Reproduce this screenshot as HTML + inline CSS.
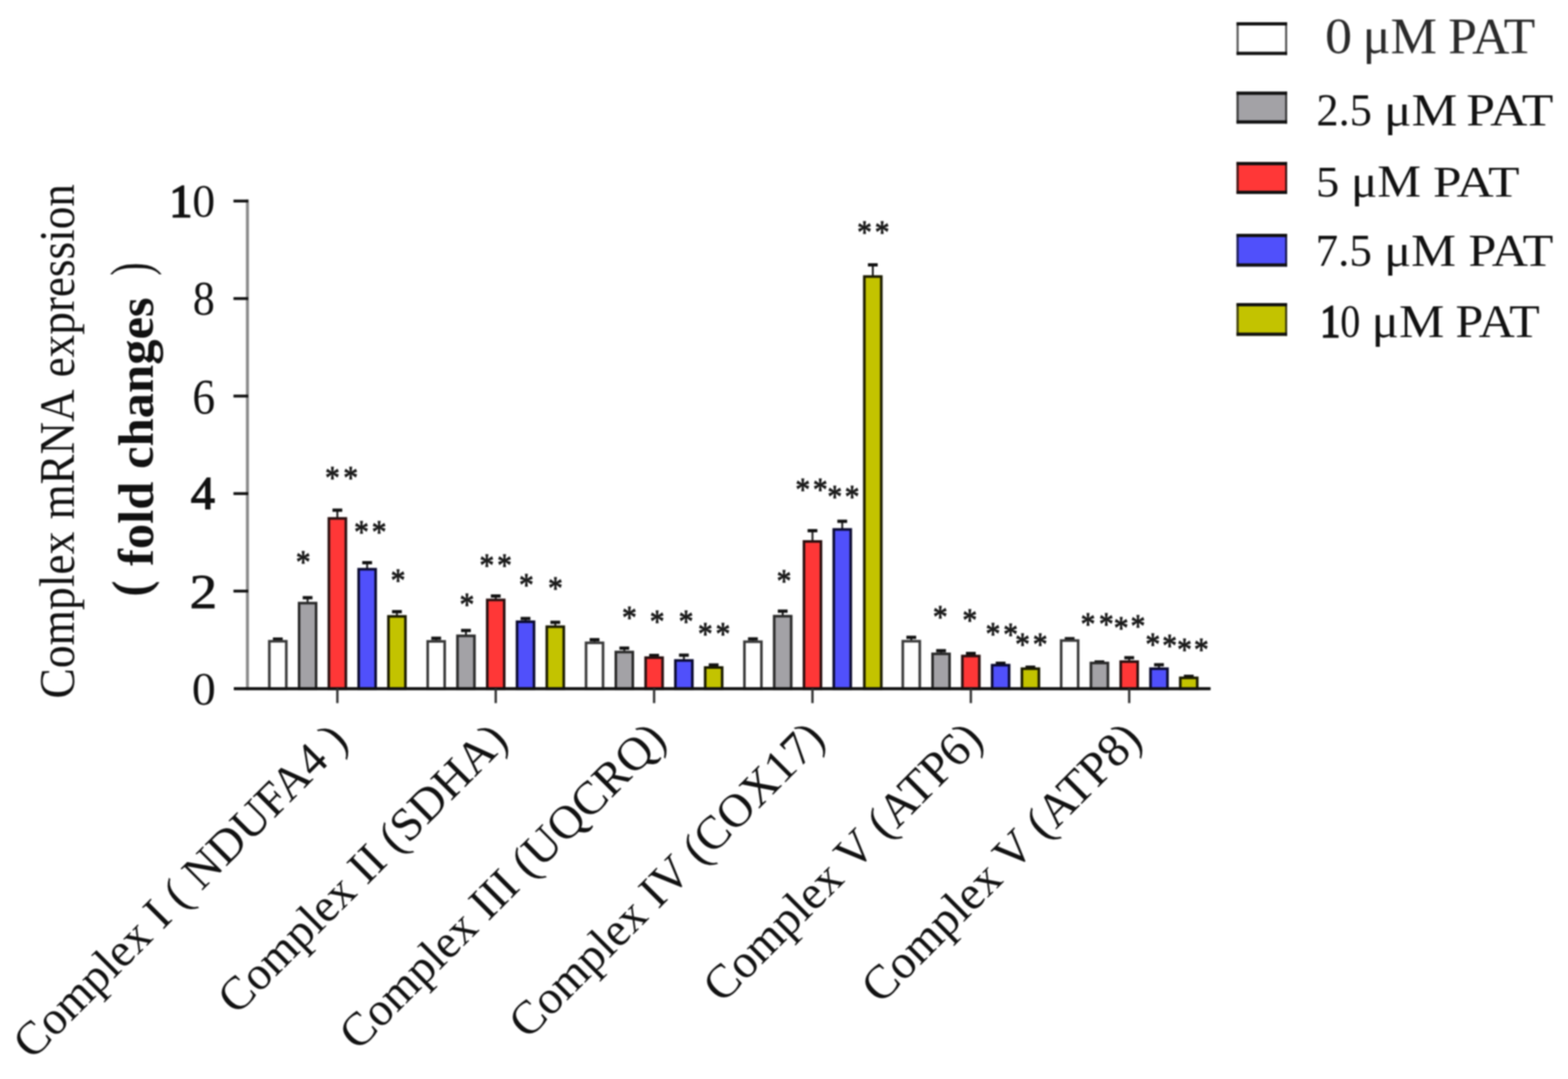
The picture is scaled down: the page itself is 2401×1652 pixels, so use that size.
<!DOCTYPE html>
<html><head><meta charset="utf-8"><style>
html,body{margin:0;padding:0;background:#fff;}
svg{display:block;}
#wrap{filter:blur(0.8px);}
text{font-family:'Liberation Serif','Times New Roman',serif;}
</style></head><body><div id="wrap">
<svg width="2401" height="1652" viewBox="0 0 2401 1652">
<rect width="2401" height="1652" fill="#fff"/>
<line x1="378.9" y1="305.5" x2="378.9" y2="1056.5" stroke="#8a8a8a" stroke-width="4.6"/>
<line x1="357.5" y1="307.80" x2="380" y2="307.80" stroke="#111" stroke-width="4.4"/>
<line x1="357.5" y1="457.10" x2="380" y2="457.10" stroke="#111" stroke-width="4.4"/>
<line x1="357.5" y1="606.40" x2="380" y2="606.40" stroke="#111" stroke-width="4.4"/>
<line x1="357.5" y1="755.70" x2="380" y2="755.70" stroke="#111" stroke-width="4.4"/>
<line x1="357.5" y1="905.00" x2="380" y2="905.00" stroke="#111" stroke-width="4.4"/>
<line x1="358" y1="1054.30" x2="1853.5" y2="1054.30" stroke="#111" stroke-width="4.2"/>
<text transform="translate(259.52,332.40) scale(0.9674,1)" font-size="72.12" font-weight="normal" fill="#111"><tspan stroke="#111" stroke-width="2.6">1</tspan>0</text>
<text transform="translate(295.31,482.40) scale(0.9142,1)" font-size="73.64" font-weight="normal" fill="#111">8</text>
<text transform="translate(294.60,633.00) scale(0.9112,1)" font-size="76.82" font-weight="normal" fill="#111">6</text>
<text transform="translate(292.23,779.11) scale(1.0324,1)" font-size="71.25" font-weight="normal" fill="#111"><tspan stroke="#111" stroke-width="2">4</tspan></text>
<text transform="translate(290.31,930.93) scale(1.1582,1)" font-size="73.28" font-weight="normal" fill="#111"><tspan stroke="#111" stroke-width="1">2</tspan></text>
<text transform="translate(293.86,1078.60) scale(1.0179,1)" font-size="72.12" font-weight="normal" fill="#111">0</text>
<line x1="425.40" y1="978.00" x2="425.40" y2="981.80" stroke="#222" stroke-width="3"/>
<line x1="417.90" y1="978.50" x2="432.90" y2="978.50" stroke="#111" stroke-width="5"/>
<rect x="412.40" y="981.80" width="26.00" height="72.50" fill="#ffffff" stroke="#3a3a3a" stroke-width="4.0"/>
<line x1="471.00" y1="914.60" x2="471.00" y2="923.40" stroke="#222" stroke-width="3"/>
<line x1="463.50" y1="915.10" x2="478.50" y2="915.10" stroke="#111" stroke-width="5"/>
<rect x="458.00" y="923.40" width="26.00" height="130.90" fill="#a3a2a6" stroke="#2a2a2a" stroke-width="4.0"/>
<line x1="516.60" y1="780.60" x2="516.60" y2="793.70" stroke="#222" stroke-width="3"/>
<line x1="509.10" y1="781.10" x2="524.10" y2="781.10" stroke="#111" stroke-width="5"/>
<rect x="503.60" y="793.70" width="26.00" height="260.60" fill="#ff3737" stroke="#2a1010" stroke-width="4.0"/>
<line x1="562.20" y1="861.00" x2="562.20" y2="871.50" stroke="#222" stroke-width="3"/>
<line x1="554.70" y1="861.50" x2="569.70" y2="861.50" stroke="#111" stroke-width="5"/>
<rect x="549.20" y="871.50" width="26.00" height="182.80" fill="#5050fb" stroke="#0a0a30" stroke-width="4.0"/>
<line x1="607.80" y1="936.00" x2="607.80" y2="943.70" stroke="#222" stroke-width="3"/>
<line x1="600.30" y1="936.50" x2="615.30" y2="936.50" stroke="#111" stroke-width="5"/>
<rect x="594.80" y="943.70" width="26.00" height="110.60" fill="#c3c300" stroke="#1a1a00" stroke-width="4.0"/>
<line x1="667.90" y1="976.70" x2="667.90" y2="982.00" stroke="#222" stroke-width="3"/>
<line x1="660.40" y1="977.20" x2="675.40" y2="977.20" stroke="#111" stroke-width="5"/>
<rect x="654.90" y="982.00" width="26.00" height="72.30" fill="#ffffff" stroke="#3a3a3a" stroke-width="4.0"/>
<line x1="713.50" y1="964.80" x2="713.50" y2="973.50" stroke="#222" stroke-width="3"/>
<line x1="706.00" y1="965.30" x2="721.00" y2="965.30" stroke="#111" stroke-width="5"/>
<rect x="700.50" y="973.50" width="26.00" height="80.80" fill="#a3a2a6" stroke="#2a2a2a" stroke-width="4.0"/>
<line x1="759.10" y1="912.00" x2="759.10" y2="918.50" stroke="#222" stroke-width="3"/>
<line x1="751.60" y1="912.50" x2="766.60" y2="912.50" stroke="#111" stroke-width="5"/>
<rect x="746.10" y="918.50" width="26.00" height="135.80" fill="#ff3737" stroke="#2a1010" stroke-width="4.0"/>
<line x1="804.70" y1="946.50" x2="804.70" y2="951.90" stroke="#222" stroke-width="3"/>
<line x1="797.20" y1="947.00" x2="812.20" y2="947.00" stroke="#111" stroke-width="5"/>
<rect x="791.70" y="951.90" width="26.00" height="102.40" fill="#5050fb" stroke="#0a0a30" stroke-width="4.0"/>
<line x1="850.30" y1="952.30" x2="850.30" y2="959.50" stroke="#222" stroke-width="3"/>
<line x1="842.80" y1="952.80" x2="857.80" y2="952.80" stroke="#111" stroke-width="5"/>
<rect x="837.30" y="959.50" width="26.00" height="94.80" fill="#c3c300" stroke="#1a1a00" stroke-width="4.0"/>
<line x1="910.40" y1="978.90" x2="910.40" y2="984.20" stroke="#222" stroke-width="3"/>
<line x1="902.90" y1="979.40" x2="917.90" y2="979.40" stroke="#111" stroke-width="5"/>
<rect x="897.40" y="984.20" width="26.00" height="70.10" fill="#ffffff" stroke="#3a3a3a" stroke-width="4.0"/>
<line x1="956.00" y1="991.80" x2="956.00" y2="998.30" stroke="#222" stroke-width="3"/>
<line x1="948.50" y1="992.30" x2="963.50" y2="992.30" stroke="#111" stroke-width="5"/>
<rect x="943.00" y="998.30" width="26.00" height="56.00" fill="#a3a2a6" stroke="#2a2a2a" stroke-width="4.0"/>
<line x1="1001.60" y1="1003.00" x2="1001.60" y2="1006.90" stroke="#222" stroke-width="3"/>
<line x1="994.10" y1="1003.50" x2="1009.10" y2="1003.50" stroke="#111" stroke-width="5"/>
<rect x="988.60" y="1006.90" width="26.00" height="47.40" fill="#ff3737" stroke="#2a1010" stroke-width="4.0"/>
<line x1="1047.20" y1="1002.60" x2="1047.20" y2="1011.20" stroke="#222" stroke-width="3"/>
<line x1="1039.70" y1="1003.10" x2="1054.70" y2="1003.10" stroke="#111" stroke-width="5"/>
<rect x="1034.20" y="1011.20" width="26.00" height="43.10" fill="#5050fb" stroke="#0a0a30" stroke-width="4.0"/>
<line x1="1092.80" y1="1017.60" x2="1092.80" y2="1022.00" stroke="#222" stroke-width="3"/>
<line x1="1085.30" y1="1018.10" x2="1100.30" y2="1018.10" stroke="#111" stroke-width="5"/>
<rect x="1079.80" y="1022.00" width="26.00" height="32.30" fill="#c3c300" stroke="#1a1a00" stroke-width="4.0"/>
<line x1="1152.90" y1="977.70" x2="1152.90" y2="982.50" stroke="#222" stroke-width="3"/>
<line x1="1145.40" y1="978.20" x2="1160.40" y2="978.20" stroke="#111" stroke-width="5"/>
<rect x="1139.90" y="982.50" width="26.00" height="71.80" fill="#ffffff" stroke="#3a3a3a" stroke-width="4.0"/>
<line x1="1198.50" y1="935.20" x2="1198.50" y2="943.40" stroke="#222" stroke-width="3"/>
<line x1="1191.00" y1="935.70" x2="1206.00" y2="935.70" stroke="#111" stroke-width="5"/>
<rect x="1185.50" y="943.40" width="26.00" height="110.90" fill="#a3a2a6" stroke="#2a2a2a" stroke-width="4.0"/>
<line x1="1244.10" y1="812.00" x2="1244.10" y2="829.00" stroke="#222" stroke-width="3"/>
<line x1="1236.60" y1="812.50" x2="1251.60" y2="812.50" stroke="#111" stroke-width="5"/>
<rect x="1231.10" y="829.00" width="26.00" height="225.30" fill="#ff3737" stroke="#2a1010" stroke-width="4.0"/>
<line x1="1289.70" y1="797.60" x2="1289.70" y2="810.60" stroke="#222" stroke-width="3"/>
<line x1="1282.20" y1="798.10" x2="1297.20" y2="798.10" stroke="#111" stroke-width="5"/>
<rect x="1276.70" y="810.60" width="26.00" height="243.70" fill="#5050fb" stroke="#0a0a30" stroke-width="4.0"/>
<line x1="1336.50" y1="405.00" x2="1336.50" y2="423.40" stroke="#222" stroke-width="3"/>
<line x1="1329.00" y1="405.50" x2="1344.00" y2="405.50" stroke="#111" stroke-width="5"/>
<rect x="1323.50" y="423.40" width="26.00" height="630.90" fill="#c3c300" stroke="#1a1a00" stroke-width="4.0"/>
<line x1="1395.40" y1="975.30" x2="1395.40" y2="981.70" stroke="#222" stroke-width="3"/>
<line x1="1387.90" y1="975.80" x2="1402.90" y2="975.80" stroke="#111" stroke-width="5"/>
<rect x="1382.40" y="981.70" width="26.00" height="72.60" fill="#ffffff" stroke="#3a3a3a" stroke-width="4.0"/>
<line x1="1441.00" y1="995.75" x2="1441.00" y2="1001.10" stroke="#222" stroke-width="3"/>
<line x1="1433.50" y1="996.25" x2="1448.50" y2="996.25" stroke="#111" stroke-width="5"/>
<rect x="1428.00" y="1001.10" width="26.00" height="53.20" fill="#a3a2a6" stroke="#2a2a2a" stroke-width="4.0"/>
<line x1="1486.60" y1="1000.00" x2="1486.60" y2="1004.40" stroke="#222" stroke-width="3"/>
<line x1="1479.10" y1="1000.50" x2="1494.10" y2="1000.50" stroke="#111" stroke-width="5"/>
<rect x="1473.60" y="1004.40" width="26.00" height="49.90" fill="#ff3737" stroke="#2a1010" stroke-width="4.0"/>
<line x1="1532.20" y1="1015.00" x2="1532.20" y2="1018.40" stroke="#222" stroke-width="3"/>
<line x1="1524.70" y1="1015.50" x2="1539.70" y2="1015.50" stroke="#111" stroke-width="5"/>
<rect x="1519.20" y="1018.40" width="26.00" height="35.90" fill="#5050fb" stroke="#0a0a30" stroke-width="4.0"/>
<line x1="1577.80" y1="1021.00" x2="1577.80" y2="1023.80" stroke="#222" stroke-width="3"/>
<line x1="1570.30" y1="1021.50" x2="1585.30" y2="1021.50" stroke="#111" stroke-width="5"/>
<rect x="1564.80" y="1023.80" width="26.00" height="30.50" fill="#c3c300" stroke="#1a1a00" stroke-width="4.0"/>
<line x1="1637.90" y1="977.40" x2="1637.90" y2="980.70" stroke="#222" stroke-width="3"/>
<line x1="1630.40" y1="977.90" x2="1645.40" y2="977.90" stroke="#111" stroke-width="5"/>
<rect x="1624.90" y="980.70" width="26.00" height="73.60" fill="#ffffff" stroke="#3a3a3a" stroke-width="4.0"/>
<line x1="1683.50" y1="1013.00" x2="1683.50" y2="1015.10" stroke="#222" stroke-width="3"/>
<line x1="1676.00" y1="1013.50" x2="1691.00" y2="1013.50" stroke="#111" stroke-width="5"/>
<rect x="1670.50" y="1015.10" width="26.00" height="39.20" fill="#a3a2a6" stroke="#2a2a2a" stroke-width="4.0"/>
<line x1="1729.10" y1="1006.50" x2="1729.10" y2="1013.00" stroke="#222" stroke-width="3"/>
<line x1="1721.60" y1="1007.00" x2="1736.60" y2="1007.00" stroke="#111" stroke-width="5"/>
<rect x="1716.10" y="1013.00" width="26.00" height="41.30" fill="#ff3737" stroke="#2a1010" stroke-width="4.0"/>
<line x1="1774.70" y1="1017.30" x2="1774.70" y2="1023.80" stroke="#222" stroke-width="3"/>
<line x1="1767.20" y1="1017.80" x2="1782.20" y2="1017.80" stroke="#111" stroke-width="5"/>
<rect x="1761.70" y="1023.80" width="26.00" height="30.50" fill="#5050fb" stroke="#0a0a30" stroke-width="4.0"/>
<line x1="1820.30" y1="1035.00" x2="1820.30" y2="1037.80" stroke="#222" stroke-width="3"/>
<line x1="1812.80" y1="1035.50" x2="1827.80" y2="1035.50" stroke="#111" stroke-width="5"/>
<rect x="1807.30" y="1037.80" width="26.00" height="16.50" fill="#c3c300" stroke="#1a1a00" stroke-width="4.0"/>
<line x1="358" y1="1054.30" x2="1853.5" y2="1054.30" stroke="#111" stroke-width="4.2"/>
<line x1="516.60" y1="1054.30" x2="516.60" y2="1076.5" stroke="#333" stroke-width="3.6"/>
<line x1="759.10" y1="1054.30" x2="759.10" y2="1076.5" stroke="#333" stroke-width="3.6"/>
<line x1="1001.60" y1="1054.30" x2="1001.60" y2="1076.5" stroke="#333" stroke-width="3.6"/>
<line x1="1244.10" y1="1054.30" x2="1244.10" y2="1076.5" stroke="#333" stroke-width="3.6"/>
<line x1="1486.60" y1="1054.30" x2="1486.60" y2="1076.5" stroke="#333" stroke-width="3.6"/>
<line x1="1729.10" y1="1054.30" x2="1729.10" y2="1076.5" stroke="#333" stroke-width="3.6"/>
<text transform="translate(464.30,853.00) scale(1,1.12)" x="0" y="21.15" font-size="45" text-anchor="middle" fill="#1a1a1a" stroke="#1a1a1a" stroke-width="1.1">*</text>
<text transform="translate(509.00,724.00) scale(1,1.12)" x="0" y="21.15" font-size="45" text-anchor="middle" fill="#1a1a1a" stroke="#1a1a1a" stroke-width="1.1">*</text>
<text transform="translate(537.00,724.00) scale(1,1.12)" x="0" y="21.15" font-size="45" text-anchor="middle" fill="#1a1a1a" stroke="#1a1a1a" stroke-width="1.1">*</text>
<text transform="translate(553.40,807.20) scale(1,1.12)" x="0" y="21.15" font-size="45" text-anchor="middle" fill="#1a1a1a" stroke="#1a1a1a" stroke-width="1.1">*</text>
<text transform="translate(580.50,807.20) scale(1,1.12)" x="0" y="21.15" font-size="45" text-anchor="middle" fill="#1a1a1a" stroke="#1a1a1a" stroke-width="1.1">*</text>
<text transform="translate(609.50,881.00) scale(1,1.12)" x="0" y="21.15" font-size="45" text-anchor="middle" fill="#1a1a1a" stroke="#1a1a1a" stroke-width="1.1">*</text>
<text transform="translate(714.90,918.70) scale(1,1.12)" x="0" y="21.15" font-size="45" text-anchor="middle" fill="#1a1a1a" stroke="#1a1a1a" stroke-width="1.1">*</text>
<text transform="translate(745.50,857.80) scale(1,1.12)" x="0" y="21.15" font-size="45" text-anchor="middle" fill="#1a1a1a" stroke="#1a1a1a" stroke-width="1.1">*</text>
<text transform="translate(772.50,857.80) scale(1,1.12)" x="0" y="21.15" font-size="45" text-anchor="middle" fill="#1a1a1a" stroke="#1a1a1a" stroke-width="1.1">*</text>
<text transform="translate(806.00,888.50) scale(1,1.12)" x="0" y="21.15" font-size="45" text-anchor="middle" fill="#1a1a1a" stroke="#1a1a1a" stroke-width="1.1">*</text>
<text transform="translate(850.60,892.80) scale(1,1.12)" x="0" y="21.15" font-size="45" text-anchor="middle" fill="#1a1a1a" stroke="#1a1a1a" stroke-width="1.1">*</text>
<text transform="translate(963.80,938.00) scale(1,1.12)" x="0" y="21.15" font-size="45" text-anchor="middle" fill="#1a1a1a" stroke="#1a1a1a" stroke-width="1.1">*</text>
<text transform="translate(1006.30,944.30) scale(1,1.12)" x="0" y="21.15" font-size="45" text-anchor="middle" fill="#1a1a1a" stroke="#1a1a1a" stroke-width="1.1">*</text>
<text transform="translate(1050.50,944.20) scale(1,1.12)" x="0" y="21.15" font-size="45" text-anchor="middle" fill="#1a1a1a" stroke="#1a1a1a" stroke-width="1.1">*</text>
<text transform="translate(1080.00,963.40) scale(1,1.12)" x="0" y="21.15" font-size="45" text-anchor="middle" fill="#1a1a1a" stroke="#1a1a1a" stroke-width="1.1">*</text>
<text transform="translate(1107.00,963.40) scale(1,1.12)" x="0" y="21.15" font-size="45" text-anchor="middle" fill="#1a1a1a" stroke="#1a1a1a" stroke-width="1.1">*</text>
<text transform="translate(1200.40,882.50) scale(1,1.12)" x="0" y="21.15" font-size="45" text-anchor="middle" fill="#1a1a1a" stroke="#1a1a1a" stroke-width="1.1">*</text>
<text transform="translate(1229.30,742.00) scale(1,1.12)" x="0" y="21.15" font-size="45" text-anchor="middle" fill="#1a1a1a" stroke="#1a1a1a" stroke-width="1.1">*</text>
<text transform="translate(1255.90,742.00) scale(1,1.12)" x="0" y="21.15" font-size="45" text-anchor="middle" fill="#1a1a1a" stroke="#1a1a1a" stroke-width="1.1">*</text>
<text transform="translate(1278.20,753.00) scale(1,1.12)" x="0" y="21.15" font-size="45" text-anchor="middle" fill="#1a1a1a" stroke="#1a1a1a" stroke-width="1.1">*</text>
<text transform="translate(1304.70,753.00) scale(1,1.12)" x="0" y="21.15" font-size="45" text-anchor="middle" fill="#1a1a1a" stroke="#1a1a1a" stroke-width="1.1">*</text>
<text transform="translate(1323.80,347.80) scale(1,1.12)" x="0" y="21.15" font-size="45" text-anchor="middle" fill="#1a1a1a" stroke="#1a1a1a" stroke-width="1.1">*</text>
<text transform="translate(1350.80,347.80) scale(1,1.12)" x="0" y="21.15" font-size="45" text-anchor="middle" fill="#1a1a1a" stroke="#1a1a1a" stroke-width="1.1">*</text>
<text transform="translate(1439.70,937.70) scale(1,1.12)" x="0" y="21.15" font-size="45" text-anchor="middle" fill="#1a1a1a" stroke="#1a1a1a" stroke-width="1.1">*</text>
<text transform="translate(1485.00,942.00) scale(1,1.12)" x="0" y="21.15" font-size="45" text-anchor="middle" fill="#1a1a1a" stroke="#1a1a1a" stroke-width="1.1">*</text>
<text transform="translate(1520.60,963.60) scale(1,1.12)" x="0" y="21.15" font-size="45" text-anchor="middle" fill="#1a1a1a" stroke="#1a1a1a" stroke-width="1.1">*</text>
<text transform="translate(1547.50,964.70) scale(1,1.12)" x="0" y="21.15" font-size="45" text-anchor="middle" fill="#1a1a1a" stroke="#1a1a1a" stroke-width="1.1">*</text>
<text transform="translate(1565.80,979.70) scale(1,1.12)" x="0" y="21.15" font-size="45" text-anchor="middle" fill="#1a1a1a" stroke="#1a1a1a" stroke-width="1.1">*</text>
<text transform="translate(1592.80,979.70) scale(1,1.12)" x="0" y="21.15" font-size="45" text-anchor="middle" fill="#1a1a1a" stroke="#1a1a1a" stroke-width="1.1">*</text>
<text transform="translate(1666.00,948.50) scale(1,1.12)" x="0" y="21.15" font-size="45" text-anchor="middle" fill="#1a1a1a" stroke="#1a1a1a" stroke-width="1.1">*</text>
<text transform="translate(1694.00,948.50) scale(1,1.12)" x="0" y="21.15" font-size="45" text-anchor="middle" fill="#1a1a1a" stroke="#1a1a1a" stroke-width="1.1">*</text>
<text transform="translate(1716.70,953.90) scale(1,1.12)" x="0" y="21.15" font-size="45" text-anchor="middle" fill="#1a1a1a" stroke="#1a1a1a" stroke-width="1.1">*</text>
<text transform="translate(1742.50,951.70) scale(1,1.12)" x="0" y="21.15" font-size="45" text-anchor="middle" fill="#1a1a1a" stroke="#1a1a1a" stroke-width="1.1">*</text>
<text transform="translate(1765.20,979.70) scale(1,1.12)" x="0" y="21.15" font-size="45" text-anchor="middle" fill="#1a1a1a" stroke="#1a1a1a" stroke-width="1.1">*</text>
<text transform="translate(1791.00,980.80) scale(1,1.12)" x="0" y="21.15" font-size="45" text-anchor="middle" fill="#1a1a1a" stroke="#1a1a1a" stroke-width="1.1">*</text>
<text transform="translate(1813.70,987.30) scale(1,1.12)" x="0" y="21.15" font-size="45" text-anchor="middle" fill="#1a1a1a" stroke="#1a1a1a" stroke-width="1.1">*</text>
<text transform="translate(1839.50,987.30) scale(1,1.12)" x="0" y="21.15" font-size="45" text-anchor="middle" fill="#1a1a1a" stroke="#1a1a1a" stroke-width="1.1">*</text>
<rect x="1893.50" y="34.10" width="77.50" height="50.20" fill="#ffffff"/>
<line x1="1895.10" y1="34.10" x2="1895.10" y2="84.30" stroke="#555" stroke-width="3.2"/>
<line x1="1969.40" y1="34.10" x2="1969.40" y2="84.30" stroke="#555" stroke-width="3.2"/>
<line x1="1893.50" y1="36.60" x2="1971.00" y2="36.60" stroke="#111" stroke-width="5"/>
<line x1="1893.50" y1="81.80" x2="1971.00" y2="81.80" stroke="#111" stroke-width="5"/>
<rect x="1893.50" y="140.20" width="77.50" height="49.10" fill="#a3a2a6"/>
<line x1="1895.10" y1="140.20" x2="1895.10" y2="189.30" stroke="#3a3a3a" stroke-width="3.2"/>
<line x1="1969.40" y1="140.20" x2="1969.40" y2="189.30" stroke="#3a3a3a" stroke-width="3.2"/>
<line x1="1893.50" y1="142.70" x2="1971.00" y2="142.70" stroke="#111" stroke-width="5"/>
<line x1="1893.50" y1="186.80" x2="1971.00" y2="186.80" stroke="#111" stroke-width="5"/>
<rect x="1893.50" y="247.90" width="77.50" height="49.10" fill="#ff3737"/>
<line x1="1895.10" y1="247.90" x2="1895.10" y2="297.00" stroke="#3a1515" stroke-width="3.2"/>
<line x1="1969.40" y1="247.90" x2="1969.40" y2="297.00" stroke="#3a1515" stroke-width="3.2"/>
<line x1="1893.50" y1="250.40" x2="1971.00" y2="250.40" stroke="#111" stroke-width="5"/>
<line x1="1893.50" y1="294.50" x2="1971.00" y2="294.50" stroke="#111" stroke-width="5"/>
<rect x="1893.50" y="358.00" width="77.50" height="50.20" fill="#5050fb"/>
<line x1="1895.10" y1="358.00" x2="1895.10" y2="408.20" stroke="#1a1a50" stroke-width="3.2"/>
<line x1="1969.40" y1="358.00" x2="1969.40" y2="408.20" stroke="#1a1a50" stroke-width="3.2"/>
<line x1="1893.50" y1="360.50" x2="1971.00" y2="360.50" stroke="#111" stroke-width="5"/>
<line x1="1893.50" y1="405.70" x2="1971.00" y2="405.70" stroke="#111" stroke-width="5"/>
<rect x="1893.50" y="464.10" width="77.50" height="50.10" fill="#c3c300"/>
<line x1="1895.10" y1="464.10" x2="1895.10" y2="514.20" stroke="#3a3a10" stroke-width="3.2"/>
<line x1="1969.40" y1="464.10" x2="1969.40" y2="514.20" stroke="#3a3a10" stroke-width="3.2"/>
<line x1="1893.50" y1="466.60" x2="1971.00" y2="466.60" stroke="#111" stroke-width="5"/>
<line x1="1893.50" y1="511.70" x2="1971.00" y2="511.70" stroke="#111" stroke-width="5"/>
<text transform="translate(2028.99,81.45) scale(1.0464,1)" font-size="79.02" fill="#2a2a2a">0</text>
<text transform="translate(2086.40,81.45) scale(1.0125,1)" font-size="79.02" fill="#2a2a2a">μM</text>
<text transform="translate(2217.43,81.45) scale(1.0016,1)" font-size="79.02" fill="#2a2a2a">PAT</text>
<text transform="translate(2015.78,192.35) scale(0.9715,1)" font-size="69.92" fill="#111">2.5</text>
<text transform="translate(2119.30,192.35) scale(1.1255,1)" font-size="69.92" fill="#111">μM</text>
<text transform="translate(2245.13,192.35) scale(1.1309,1)" font-size="69.92" fill="#111">PAT</text>
<text transform="translate(2015.01,300.65) scale(1.0411,1)" font-size="68.71" fill="#111">5</text>
<text transform="translate(2068.67,300.65) scale(1.0965,1)" font-size="68.71" fill="#111">μM</text>
<text transform="translate(2194.14,300.65) scale(1.1437,1)" font-size="68.71" fill="#111">PAT</text>
<text transform="translate(2014.47,407.35) scale(0.9872,1)" font-size="69.92" fill="#111">7.5</text>
<text transform="translate(2119.41,407.35) scale(1.1059,1)" font-size="69.92" fill="#111">μM</text>
<text transform="translate(2248.59,407.35) scale(1.1011,1)" font-size="69.92" fill="#111">PAT</text>
<text transform="translate(2021.56,515.75) scale(0.8647,1)" font-size="71.14" fill="#111"><tspan stroke="#111" stroke-width="2.6">1</tspan>0</text>
<text transform="translate(2100.36,515.75) scale(1.0967,1)" font-size="71.14" fill="#111">μM</text>
<text transform="translate(2228.81,515.75) scale(1.0746,1)" font-size="71.14" fill="#111">PAT</text>
<text transform="translate(112.65,1069.49) rotate(-90) scale(0.9082,1)" font-size="76.74" font-weight="normal" fill="#111">Complex</text>
<text transform="translate(112.65,795.18) rotate(-90) scale(0.8971,1)" font-size="76.74" font-weight="normal" fill="#111">mRNA</text>
<text transform="translate(112.65,577.87) rotate(-90) scale(0.9019,1)" font-size="76.74" font-weight="normal" fill="#111">expression</text>
<text transform="translate(234.35,866.48) rotate(-90) scale(1.0189,1)" font-size="76.07" font-weight="bold" fill="#111">fold changes</text>
<text transform="translate(227.31,913.46) rotate(-90) scale(0.9315,1)" font-size="79.44" font-weight="bold" fill="#111">(</text>
<text transform="translate(228.51,421.91) rotate(-90) scale(0.6945,1)" font-size="86.97" font-weight="normal" fill="#111">)</text>
<text transform="translate(517.95,1119.50) rotate(-45)" font-size="72.2" text-anchor="end" fill="#111" x="0" y="25.3">Complex I ( NDUFA4 )</text>
<text transform="translate(763.00,1119.00) rotate(-45)" font-size="72.0" text-anchor="end" fill="#111" x="0" y="25.2">Complex II (SDHA)</text>
<text transform="translate(1005.50,1117.60) rotate(-45)" font-size="72.0" text-anchor="end" fill="#111" x="0" y="25.2">Complex III (UQCRQ)</text>
<text transform="translate(1248.45,1116.30) rotate(-45)" font-size="72.2" text-anchor="end" fill="#111" x="0" y="25.3">Complex IV (COX17)</text>
<text transform="translate(1490.30,1117.35) rotate(-45)" font-size="73.0" text-anchor="end" fill="#111" x="0" y="25.5">Complex V (ATP6)</text>
<text transform="translate(1733.75,1117.35) rotate(-45)" font-size="73.2" text-anchor="end" fill="#111" x="0" y="25.6">Complex V (ATP8)</text>
</svg></div></body></html>
